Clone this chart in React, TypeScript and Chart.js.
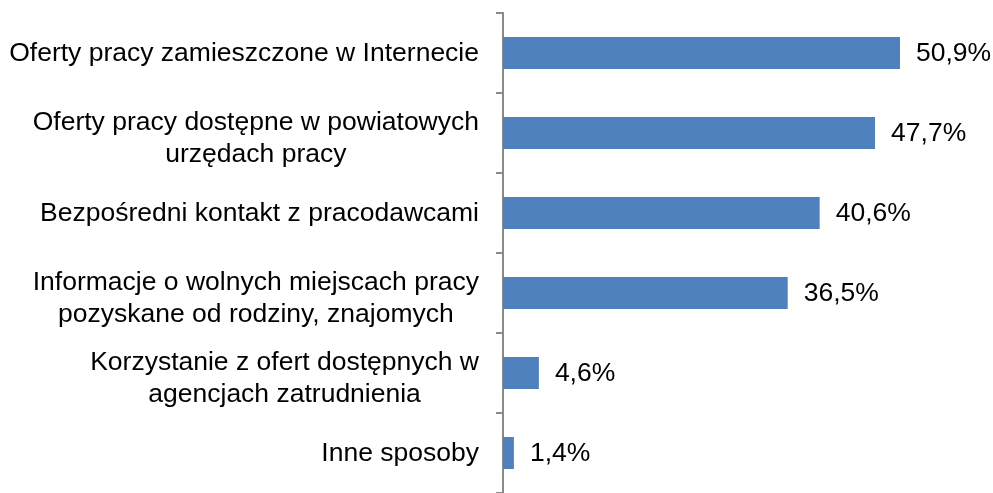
import React, { useEffect, useRef } from "react";
import { Chart, registerables } from "chart.js";

Chart.register(...registerables);

const categories: string[][] = [
  ["Oferty pracy zamieszczone w Internecie"],
  ["Oferty pracy dostępne w powiatowych", "urzędach pracy"],
  ["Bezpośredni kontakt z pracodawcami"],
  ["Informacje o wolnych miejscach pracy", "pozyskane od rodziny, znajomych"],
  ["Korzystanie z ofert dostępnych w", "agencjach zatrudnienia"],
  ["Inne sposoby"],
];
const values: number[] = [50.9, 47.7, 40.6, 36.5, 4.6, 1.4];

const FONT = "'Liberation Sans', Arial, sans-serif";
const FONT_SIZE = 26.5;
const LINE_H = 32;

const labelsPlugin = {
  id: "customLabels",
  afterDraw(chart: any) {
    const ctx = chart.ctx;
    const yScale = chart.scales.y;
    const area = chart.chartArea;
    ctx.save();
    ctx.font = `${FONT_SIZE}px ${FONT}`;
    ctx.fillStyle = "#000";
    ctx.textBaseline = "middle";
    const right = area.left - 24;
    categories.forEach((lines, i) => {
      const yc = yScale.getPixelForValue(i);
      const widths = lines.map((l) => ctx.measureText(l).width);
      const maxW = Math.max(...widths);
      const cx = right - maxW / 2;
      ctx.textAlign = "center";
      const n = lines.length;
      const shift = n > 1 ? 5 : 0;
      lines.forEach((l, j) => {
        const y = yc + shift + (j - (n - 1) / 2) * LINE_H;
        ctx.fillText(l, cx, y + 1);
      });
    });
    const meta = chart.getDatasetMeta(0);
    ctx.textAlign = "left";
    meta.data.forEach((bar: any, i: number) => {
      const txt = values[i].toFixed(1).replace(".", ",") + "%";
      ctx.fillText(txt, bar.x + 16, bar.y + 1);
    });
    ctx.restore();
  },
};

export default function App() {
  const ref = useRef<HTMLCanvasElement | null>(null);
  useEffect(() => {
    if (!ref.current) return;
    const chart = new Chart(ref.current, {
      type: "bar",
      data: {
        labels: categories.map((c) => c.join(" ")),
        datasets: [
          {
            data: values,
            backgroundColor: "#4F81BD",
            borderWidth: 0,
            barPercentage: 0.4,
            categoryPercentage: 1,
          },
        ],
      },
      options: {
        indexAxis: "y",
        animation: false,
        responsive: true,
        maintainAspectRatio: false,
        layout: { padding: { top: 13, right: 22, bottom: 0, left: 0 } },
        plugins: {
          legend: { display: false },
          tooltip: { enabled: false },
          title: { display: false },
        },
        scales: {
          x: { display: false, min: 0, max: 60 },
          y: {
            display: true,
            offset: true,
            ticks: { display: false },
            grid: {
              offset: true,
              drawOnChartArea: false,
              drawTicks: true,
              tickLength: 7,
              color: "#8a8a8a",
              lineWidth: 2,
            },
            border: { display: true, color: "#8a8a8a", width: 2 },
            afterFit: (scale: any) => {
              scale.width = 503;
            },
          },
        },
      },
      plugins: [labelsPlugin],
    });
    return () => chart.destroy();
  }, []);
  return (
    <div style={{ position: "absolute", left: 0, top: 0, width: 993, height: 493, background: "#fff" }}>
      <canvas ref={ref} />
    </div>
  );
}
